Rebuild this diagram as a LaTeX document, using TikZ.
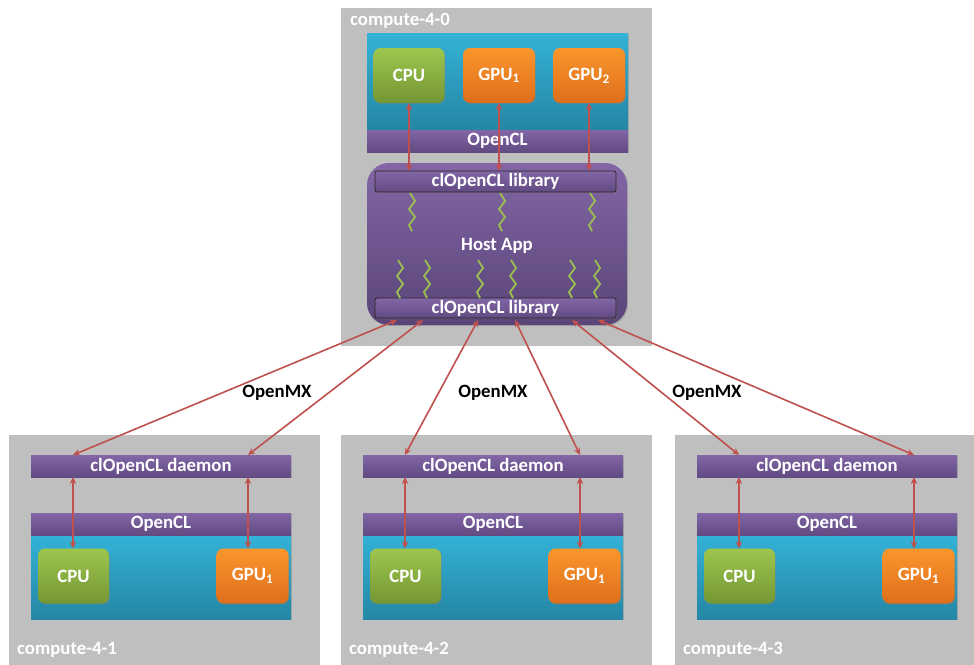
\documentclass[tikz,border=0pt]{standalone}
\usepackage{fontspec}
\setmainfont{Carlito}
\usetikzlibrary{arrows.meta,calc,shadows}

\definecolor{boxgray}{RGB}{191,191,191}
\definecolor{aquaT}{RGB}{52,178,215}
\definecolor{aquaB}{RGB}{36,134,164}
\definecolor{purpT}{RGB}{130,102,166}
\definecolor{purpB}{RGB}{98,74,130}
\definecolor{grnT}{RGB}{158,198,78}
\definecolor{grnB}{RGB}{116,150,52}
\definecolor{orgT}{RGB}{250,150,44}
\definecolor{orgB}{RGB}{222,110,28}
\definecolor{linkred}{RGB}{192,80,77}
\definecolor{zig}{RGB}{155,190,80}

\tikzset{
  txt/.style={font=\bfseries\fontsize{18.8}{21}\selectfont, text=white},
  host/.style={fill=boxgray, draw=none, anchor=north west, inner sep=0pt, outer sep=0pt},
  hostlabel/.style={txt, anchor=west, inner sep=0pt},
  softshadow/.style={drop shadow={opacity=0.35, shadow xshift=1.2pt, shadow yshift=-1.2pt}},
  aqua/.style={top color=aquaT, bottom color=aquaB, draw=none, inner sep=0pt, outer sep=0pt, softshadow},
  bar/.style={txt, top color=purpT, bottom color=purpB, draw=none, inner sep=0pt, outer sep=0pt, softshadow},
  libbar/.style={bar, draw=black!85, line width=0.8pt, rounded corners=2pt},
  cpubox/.style={txt, top color=grnT, bottom color=grnB, rounded corners=7pt, minimum width=71pt, minimum height=55pt, inner sep=0pt, outer sep=0pt, softshadow},
  gpubox/.style={txt, top color=orgT, bottom color=orgB, rounded corners=7pt, minimum width=72pt, minimum height=55pt, inner sep=0pt, outer sep=0pt, softshadow},
  link/.style={draw=linkred, line width=1.6pt, {Stealth[length=7pt,width=6.5pt]}-{Stealth[length=7pt,width=6.5pt]}},
  thread/.style={draw=zig, line width=1.8pt, line join=miter},
  mx/.style={font=\bfseries\fontsize{18.8}{21}\selectfont, text=black, inner sep=1pt}
}

% a thread: short zigzag hanging from (#1,#2), 38pt long
\newcommand\threadat[2]{%
  \draw[thread] (#1-2,#2) -- ++(5,8) -- ++(-6,8) -- ++(6,8) -- ++(-6,8) -- ++(3,6);}

\begin{document}
\begin{tikzpicture}[x=1pt, y=-1pt]
  \useasboundingbox (0,0) rectangle (974,664);
  \clip (0,0) rectangle (974,664);

  % ---- head node compute-4-0 ----
  \node[host, minimum width=311pt, minimum height=338pt] (h0) at (341,8) {};
  \node[hostlabel] (h0lab) at (350,21) {compute-4-0};
  \node[aqua, minimum width=261pt, minimum height=97pt, anchor=north west] (dev0) at (367,33) {};
  \node[bar, minimum width=261pt, minimum height=22pt, anchor=north west] (ocl0) at (367,130) {OpenCL};
  \node[cpubox] (cpu0) at (409,75.5) {CPU};
  \node[gpubox] (gpua0) at (499,75.5) {GPU\textsubscript{1}};
  \node[gpubox] (gpub0) at (589,75.5) {GPU\textsubscript{2}};

  \node[top color=purpT, bottom color=purpB!92!black, rounded corners=22pt,
        minimum width=260pt, minimum height=162pt, inner sep=0pt, outer sep=0pt,
        softshadow, anchor=north west] (app) at (367,163) {};
  \node[txt] (applab) at (497,246) {Host App};
  \node[libbar, minimum width=241pt, minimum height=21pt, anchor=north west] (libT) at (375,171) {clOpenCL library};
  \node[libbar, minimum width=241pt, minimum height=20pt, anchor=north west] (libB) at (375,298) {clOpenCL library};

  % device links inside the head node
  \draw[link] (cpu0.south) -- (cpu0.south |- libT.north);
  \draw[link] (gpua0.south) -- (gpua0.south |- libT.north);
  \draw[link] (gpub0.south) -- (gpub0.south |- libT.north);

  % host threads
  \foreach \x in {412,502,592} {\threadat{\x}{193}}
  \foreach \x in {400,427,480,513,572,597} {\threadat{\x}{260}}

  % ---- compute nodes ----
  \foreach \i/\s in {1/0,2/332,3/666} {
    \begin{scope}[xshift=\s]
      \node[host, minimum width=311pt, minimum height=240pt] (h\i) at (9,435) {};
      \node[hostlabel] (h\i lab) at (17,650) {compute-4-\i};
      \node[bar, minimum width=260pt, minimum height=22pt, anchor=north west] (dmn\i) at (31,455) {clOpenCL daemon};
      \node[aqua, minimum width=260pt, minimum height=84pt, anchor=north west] (dev\i) at (31,535) {};
      \node[bar, minimum width=260pt, minimum height=22pt, anchor=north west] (ocl\i) at (31,513) {OpenCL};
      \node[cpubox] (cpu\i) at (73.5,576) {CPU};
      \node[gpubox] (gpu\i) at (252.5,576) {GPU\textsubscript{1}};
      \coordinate (dl\i) at ($(dmn\i.north west)+(42,0)$);
      \coordinate (dr\i) at ($(dmn\i.north west)+(217,0)$);
      \draw[link] ($(dmn\i.south west)+(42,0)$) -- (cpu\i.north -| dl\i);
      \draw[link] ($(dmn\i.south west)+(217,0)$) -- (gpu\i.north -| dr\i);
    \end{scope}
  }

  % ---- OpenMX links ----
  \coordinate (p1) at ($(libB.south west)+(22,2)$);
  \coordinate (p2) at ($(libB.south west)+(48,2)$);
  \coordinate (p3) at ($(libB.south west)+(103,2)$);
  \coordinate (p4) at ($(libB.south west)+(140,2)$);
  \coordinate (p5) at ($(libB.south west)+(197,2)$);
  \coordinate (p6) at ($(libB.south west)+(223,2)$);
  \draw[link] (p1) -- (dl1);
  \draw[link] (p2) -- (dr1);
  \draw[link] (p3) -- (dl2);
  \draw[link] (p4) -- (dr2);
  \draw[link] (p5) -- (dl3);
  \draw[link] (p6) -- (dr3);

  \node[mx] (mx1) at (277,393) {OpenMX};
  \node[mx] (mx2) at (493,393) {OpenMX};
  \node[mx] (mx3) at (707,393) {OpenMX};
\end{tikzpicture}
\end{document}
